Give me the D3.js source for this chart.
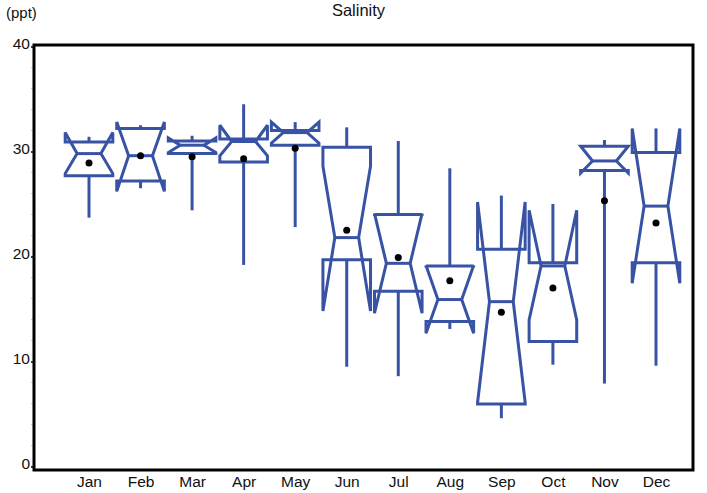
<!DOCTYPE html>
<html>
<head>
<meta charset="utf-8">
<script src="https://cdn.jsdelivr.net/npm/d3@7"></script>
<style>
  html, body { margin: 0; padding: 0; background: #fff; }
  svg { display: block; font-family: "Liberation Sans", Arial, sans-serif; }
</style>
</head>
<body>
<svg id="chart" width="707" height="493"></svg>
<script>
// ---- data ----
const months   = ["Jan","Feb","Mar","Apr","May","Jun","Jul","Aug","Sep","Oct","Nov","Dec"];
const whiskLo  = [23.7, 26.5, 24.4, 19.2, 22.8,  9.5,  8.6, 13.1,  4.6,  9.7,  7.9,  9.6];
const q1       = [27.7, 27.2, 29.8, 29.0, 30.6, 19.7, 16.7, 13.8,  5.95,11.9, 28.2, 19.4];
const median   = [29.8, 29.6, 30.6, 30.95,31.8, 21.8, 19.35,15.9, 15.7, 19.1, 29.1, 24.8];
const q3       = [30.9, 32.2, 31.0, 31.2, 32.0, 30.4, 24.0, 19.1, 20.7, 19.4, 30.5, 29.9];
const whiskHi  = [31.4, 32.5, 31.5, 34.5, 32.8, 32.3, 31.0, 28.4, 25.8, 25.0, 31.1, 32.2];
const notchLo  = [27.9, 26.2, 29.9, 29.6, 30.8, 14.8, 14.6, 12.7,  6.1, 13.95,27.95,17.45];
const notchHi  = [31.8, 32.8, 31.3, 32.5, 32.8, 28.6, 24.1, 19.15,25.2, 24.4, 30.5, 32.2];
const means    = [28.9, 29.6, 29.5, 29.3, 30.3, 22.5, 19.9, 17.7, 14.7, 17.0, 25.3, 23.2];
const yTicks   = [0, 10, 20, 30, 40];
const title    = "Salinity";
const unit     = "(ppt)";

// ---- layout ----
const svg = d3.select("#chart");
const frame = {left: 34, right: 693, top: 45, bottom: 470};
const x = d3.scalePoint().domain(months).range([89, 656]);
const y = d3.scaleLinear().domain([0, 40]).range([466.5, 46.5]);
const halfW = 23.8;
const blue = "#3953a4";

// title & unit
svg.append("text").attr("x", 358.5).attr("y", 16).attr("text-anchor", "middle")
  .attr("font-size", 16.5).attr("fill", "#111").text(title);
svg.append("text").attr("x", 6).attr("y", 18).attr("text-anchor", "start")
  .attr("font-size", 15).attr("fill", "#111").text(unit);

// minor ticks
svg.append("g").selectAll("line").data(d3.range(0, 41, 2).filter(v => v % 10 !== 0))
  .join("line")
  .attr("x1", frame.left - 3).attr("x2", frame.left - 1)
  .attr("y1", d => y(d)).attr("y2", d => y(d))
  .attr("stroke", "#ccc").attr("stroke-width", 1);

// y axis
const yAxis = d3.axisLeft(y).tickValues(yTicks).tickSize(3).tickPadding(1).tickFormat(d3.format("d"));
const gy = svg.append("g").attr("transform", `translate(${frame.left},0)`).call(yAxis);
gy.select(".domain").remove();
gy.selectAll(".tick line").attr("stroke", "#000").attr("stroke-width", 1.5);
gy.selectAll(".tick text").attr("font-size", 15.5).attr("fill", "#111")
  .attr("font-family", "Liberation Sans, Arial, sans-serif").attr("dy", "0.15em");

// x axis labels
const xAxis = d3.axisBottom(x).tickSize(0).tickPadding(6);
const gx = svg.append("g").attr("transform", `translate(0,${frame.bottom})`).call(xAxis);
gx.select(".domain").remove();
gx.selectAll(".tick text").attr("font-size", 15.5).attr("fill", "#111")
  .attr("font-family", "Liberation Sans, Arial, sans-serif");

// frame
svg.append("rect")
  .attr("x", frame.left).attr("y", frame.top)
  .attr("width", frame.right - frame.left).attr("height", frame.bottom - frame.top)
  .attr("fill", "none").attr("stroke", "#000").attr("stroke-width", 3);

// boxes
const data = months.map((m, i) => ({
  m, lo: whiskLo[i], q1: q1[i], med: median[i], q3: q3[i], hi: whiskHi[i],
  nLo: notchLo[i], nHi: notchHi[i], mean: means[i]
}));

const g = svg.append("g");
data.forEach(d => {
  const cx = x(d.m);
  // whiskers
  g.append("line").attr("x1", cx).attr("x2", cx).attr("y1", y(d.q3)).attr("y2", y(d.hi))
    .attr("stroke", blue).attr("stroke-width", 3);
  g.append("line").attr("x1", cx).attr("x2", cx).attr("y1", y(d.q1)).attr("y2", y(d.lo))
    .attr("stroke", blue).attr("stroke-width", 3);
  // notched box outline
  const pts = [
    [cx - halfW, y(d.q1)],
    [cx - halfW, y(d.nLo)],
    [cx - halfW / 2, y(d.med)],
    [cx - halfW, y(d.nHi)],
    [cx - halfW, y(d.q3)],
    [cx + halfW, y(d.q3)],
    [cx + halfW, y(d.nHi)],
    [cx + halfW / 2, y(d.med)],
    [cx + halfW, y(d.nLo)],
    [cx + halfW, y(d.q1)]
  ];
  g.append("path").attr("d", d3.line()(pts) + "Z")
    .attr("fill", "none").attr("stroke", blue).attr("stroke-width", 3)
    .attr("stroke-linejoin", "miter").attr("stroke-miterlimit", 3);
  // median line (narrow)
  g.append("line").attr("x1", cx - halfW / 2).attr("x2", cx + halfW / 2)
    .attr("y1", y(d.med)).attr("y2", y(d.med))
    .attr("stroke", blue).attr("stroke-width", 3);
  // mean
  g.append("circle").attr("cx", cx).attr("cy", y(d.mean)).attr("r", 3.5).attr("fill", "#000");
});
</script>
</body>
</html>
